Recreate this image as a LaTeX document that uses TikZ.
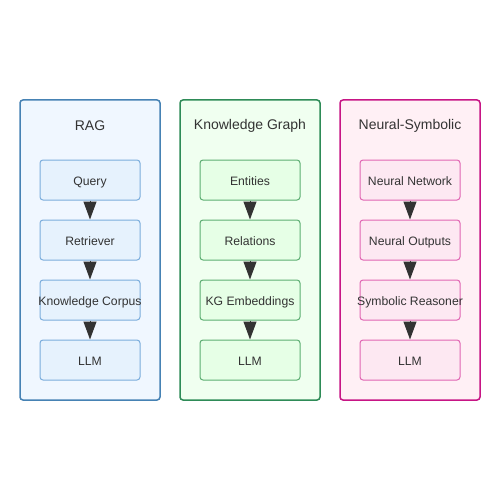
\documentclass[tikz,border=0pt]{standalone}
\usepackage{fontspec}
\setmainfont{Liberation Sans}
\usetikzlibrary{arrows.meta}

\definecolor{ragline}{HTML}{4682B4}
\definecolor{ragfill}{HTML}{F0F7FF}
\definecolor{ragboxline}{HTML}{7BADDC}
\definecolor{ragboxfill}{HTML}{E6F2FD}
\definecolor{kgline}{HTML}{2E8B57}
\definecolor{kgfill}{HTML}{F0FFF0}
\definecolor{kgboxline}{HTML}{5DAE72}
\definecolor{kgboxfill}{HTML}{E6FFE6}
\definecolor{nsline}{HTML}{C71585}
\definecolor{nsfill}{HTML}{FFF0F5}
\definecolor{nsboxline}{HTML}{E066B3}
\definecolor{nsboxfill}{HTML}{FDE8F2}
\definecolor{txt}{HTML}{333333}

% label that may stick out of its box
\newcommand{\wide}[1]{\makebox[0pt]{#1}}

\tikzset{
    panel/.style={draw, line width=1.5pt, rounded corners=3pt, minimum width=140pt, minimum height=300pt, inner sep=0pt},
    stage/.style={draw, line width=1pt, rounded corners=3pt, minimum width=100pt, minimum height=40pt, inner sep=0pt, text height=11pt, text depth=0pt, text=txt, font=\fontsize{12.2}{14}\selectfont},
    ttl/.style={text=txt, font=\fontsize{14}{16}\selectfont}
}

\begin{document}
\begin{tikzpicture}[x=1pt,y=-1pt,>={Triangle[length=18pt,width=13pt]},line width=1pt]
            \fill [white] (0,0) rectangle (500,500);

            % panels
            \node [panel, draw=ragline, fill=ragfill] (rag) at (90, 250) {};
            \node [panel, draw=kgline, fill=kgfill] (kg) at (250, 250) {};
            \node [panel, draw=nsline, fill=nsfill] (ns) at (410, 250) {};

            \node [ttl] (ragt) at (90, 125.5) {RAG};
            \node [ttl] (kgt) at (250, 125.5) {Knowledge Graph};
            \node [ttl] (nst) at (410, 125.5) {Neural-Symbolic};

            % RAG
            \node [stage, draw=ragboxline, fill=ragboxfill] (query) at (90, 180) {Query};
            \node [stage, draw=ragboxline, fill=ragboxfill] (retr) at (90, 240) {Retriever};
            \node [stage, draw=ragboxline, fill=ragboxfill] (corpus) at (90, 300) {\wide{Knowledge Corpus}};
            \node [stage, draw=ragboxline, fill=ragboxfill] (ragllm) at (90, 360) {LLM};

            % knowledge graph
            \node [stage, draw=kgboxline, fill=kgboxfill] (ent) at (250, 180) {Entities};
            \node [stage, draw=kgboxline, fill=kgboxfill] (rel) at (250, 240) {Relations};
            \node [stage, draw=kgboxline, fill=kgboxfill] (emb) at (250, 300) {KG Embeddings};
            \node [stage, draw=kgboxline, fill=kgboxfill] (kgllm) at (250, 360) {LLM};

            % neural-symbolic
            \node [stage, draw=nsboxline, fill=nsboxfill] (nn) at (410, 180) {Neural Network};
            \node [stage, draw=nsboxline, fill=nsboxfill] (nout) at (410, 240) {Neural Outputs};
            \node [stage, draw=nsboxline, fill=nsboxfill] (sym) at (410, 300) {\wide{Symbolic Reasoner}};
            \node [stage, draw=nsboxline, fill=nsboxfill] (nsllm) at (410, 360) {LLM};

            \draw [->, txt] (query) -- (retr);
            \draw [->, txt] (retr) -- (corpus);
            \draw [->, txt] (corpus) -- (ragllm);
            \draw [->, txt] (ent) -- (rel);
            \draw [->, txt] (rel) -- (emb);
            \draw [->, txt] (emb) -- (kgllm);
            \draw [->, txt] (nn) -- (nout);
            \draw [->, txt] (nout) -- (sym);
            \draw [->, txt] (sym) -- (nsllm);

        \end{tikzpicture}
\end{document}
